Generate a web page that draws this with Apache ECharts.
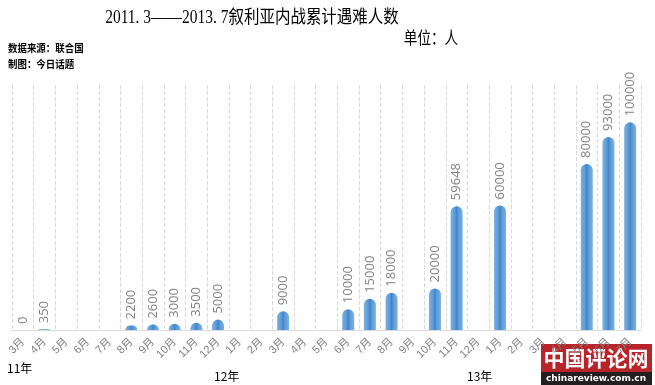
<!DOCTYPE html>
<html><head><meta charset="utf-8">
<script src="https://cdn.jsdelivr.net/npm/echarts@6/dist/echarts.min.js"></script>
<style>html,body{margin:0;padding:0;background:#fff}#c{width:655px;height:385px}</style>
</head><body><div id="c"></div>
<script>
var months = ['3月','4月','5月','6月','7月','8月','9月','10月','11月','12月',
  '1月','2月','3月','4月','5月','6月','7月','8月','9月','10月','11月','12月',
  '1月','2月','3月','4月','5月','6月','7月'];
var deaths = [0,350,null,null,null,2200,2600,3000,3500,5000,
  null,null,9000,null,null,10000,15000,18000,null,20000,59648,null,
  60000,null,null,null,80000,93000,100000];
var yearLabels = ['11年','12年','13年'];
var titleText = '2011. 3——2013. 7叙利亚内战累计遇难人数';
var unitText = '单位：人';
var sourceLines = ['数据来源：联合国','制图：今日话题'];

var chart = echarts.init(document.getElementById('c'));
var cjk = '"Liberation Sans","Noto Sans CJK SC",sans-serif';
var serif = '"Liberation Serif","Noto Sans CJK SC",serif';
chart.setOption({
  animation:false,
  grid:{left:12,right:14,top:85,bottom:55},
  graphic:[
    {type:'text',x:252,y:18,scaleX:0.86,style:{text:titleText,font:'18px "Liberation Serif","Noto Sans CJK SC"',fill:'#000',textAlign:'center',textVerticalAlign:'middle'}},
    {type:'text',x:431,y:40,scaleX:0.8,style:{text:unitText,font:'17px "Liberation Serif","Noto Sans CJK SC"',fill:'#000',textAlign:'center',textVerticalAlign:'middle'}},
    {type:'text',x:8,y:48,scaleX:0.9,style:{text:sourceLines[0],font:'bold 10.5px "Noto Sans CJK SC"',fill:'#000',textVerticalAlign:'middle'}},
    {type:'text',x:8,y:64,scaleX:0.9,style:{text:sourceLines[1],font:'bold 10.5px "Noto Sans CJK SC"',fill:'#000',textVerticalAlign:'middle'}},
    {type:'text',left:7,top:362,style:{text:yearLabels[0],font:'12px "Noto Sans CJK SC"',fill:'#000'}},
    {type:'text',left:214,top:370,style:{text:yearLabels[1],font:'12px "Noto Sans CJK SC"',fill:'#000'}},
    {type:'text',left:467,top:370,style:{text:yearLabels[2],font:'12px "Noto Sans CJK SC"',fill:'#000'}},
    {type:'group',left:541,top:344,z:100,children:[
      {type:'rect',shape:{x:0,y:0,width:111,height:28},style:{fill:'#b8242a'}},
      {type:'rect',shape:{x:0,y:28,width:111,height:13},style:{fill:'#231f20'}},
      {type:'text',x:55,y:14,style:{text:'中国评论网',font:'bold 21px "Noto Sans CJK SC"',fill:'#fff',textAlign:'center',textVerticalAlign:'middle'}},
      {type:'text',x:55,y:34.5,style:{text:'chinareview.com.cn',font:'bold 9px "DejaVu Sans"',fill:'#fff',textAlign:'center',textVerticalAlign:'middle'}}
    ]}
  ],
  xAxis:{type:'category',data:months,
    axisLine:{lineStyle:{color:'#d9d9d9'}},axisTick:{show:false},
    axisLabel:{interval:0,rotate:45,color:'#7f7f7f',fontSize:11,fontFamily:cjk,margin:10},
    splitLine:{show:true,interval:0,lineStyle:{color:'#d9d9d9',type:'dashed'}}
  },
  yAxis:{type:'value',min:0,max:118000,show:false,splitLine:{show:false}},
  series:[{type:'bar',data:deaths,barWidth:12,
    itemStyle:{borderRadius:[6,6,0,0],color:new echarts.graphic.LinearGradient(0,0,1,0,[
      {offset:0,color:'#7db0e2'},{offset:0.35,color:'#5b9bd5'},{offset:0.5,color:'#3f84cc'},{offset:0.65,color:'#5b9bd5'},{offset:1,color:'#7db0e2'}])},
    label:{show:true,position:'top',rotate:90,align:'left',verticalAlign:'middle',distance:6,
      color:'#7f7f7f',fontSize:13,fontFamily:'"Open Sans","Liberation Sans",sans-serif'}
  }]
});
</script></body></html>
